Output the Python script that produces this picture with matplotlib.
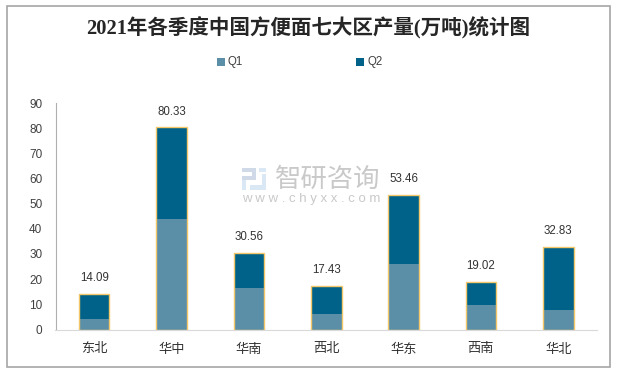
import matplotlib
matplotlib.use('Agg')
import matplotlib.pyplot as plt
from matplotlib.patches import Rectangle

plt.rcParams['font.family'] = ['Liberation Sans', 'Noto Sans CJK SC']

regions = ['东北', '华中', '华南', '西北', '华东', '西南', '华北']
q1 = [4.0, 43.9, 16.4, 6.1, 25.9, 9.7, 7.6]
q2 = [10.09, 36.43, 14.16, 11.33, 27.56, 9.32, 25.23]
totals = [14.09, 80.33, 30.56, 17.43, 53.46, 19.02, 32.83]
yticks = [0, 10, 20, 30, 40, 50, 60, 70, 80, 90]

W, H = 624, 374
fig = plt.figure(figsize=(W / 100, H / 100), dpi=100)

def px_rect(x0, y0, x1, y1, **kw):
    # rectangle given in picture pixels, y going down
    r = Rectangle((x0 / W, 1 - y1 / H), (x1 - x0) / W, (y1 - y0) / H, transform=fig.transFigure, **kw)
    fig.add_artist(r)

# outer grey frame
px_rect(6.5, 5.5, 610, 367, fc='white', ec='#a6a6a6', lw=1.2, zorder=-1)

ax = fig.add_axes([55.5 / W, 1 - 329.5 / H, 541.5 / W, 226.5 / H])
ax.patch.set_alpha(0)
x = list(range(len(regions)))
c1 = '#5b8fa8'
c2 = '#006288'
edge = '#f4c76a'
ax.bar(x, q1, width=0.395, color=c1, edgecolor='none', label='Q1', zorder=2)
ax.bar(x, q2, bottom=q1, width=0.395, color=c2, edgecolor='none', label='Q2', zorder=2)

# yellow outline around each stack
for i in x:
    ax.bar(i, totals[i], width=0.395, fill=False, edgecolor=edge, lw=1.0, zorder=3)
    ax.text(i, totals[i] + 3.8, '%.2f' % totals[i], ha='center', va='bottom', fontsize=8.3, color='#333333')

ax.set_xlim(-0.5, 6.5)
ax.set_ylim(0, 90)
ax.set_yticks(yticks)
ax.set_xticks(x)
ax.set_xticklabels(regions, fontsize=9.5, color='#333333')
ax.tick_params(axis='y', length=0, labelsize=8.5, labelcolor='#404040', pad=9.5)
ax.tick_params(axis='x', length=0, pad=10)
for s in ['top', 'right']:
    ax.spines[s].set_visible(False)
ax.spines['left'].set_color('#b0b0b0')
ax.spines['bottom'].set_color('#d9d9d9')

fig.text(308.5 / W, 1 - 28 / H, '2021年各季度中国方便面七大区产量(万吨)统计图', ha='center', va='center',
         fontsize=14.8, fontweight='bold', color='#262626',
         family=['Liberation Serif', 'Noto Sans CJK SC'])

# legend
px_rect(217, 58, 225, 66, fc=c1, ec='none')
fig.text(228 / W, 1 - 62 / H, 'Q1', fontsize=8.3, va='center', color='#404040')
px_rect(356, 58, 364, 66, fc=c2, ec='none')
fig.text(367 / W, 1 - 62 / H, 'Q2', fontsize=8.3, va='center', color='#404040')

# watermark
logo = '#cfd9e8'
logo2 = '#d9e8f4'
px_rect(242, 168, 256, 172, fc=logo, ec='none', zorder=5)
px_rect(252, 172, 256, 180, fc=logo, ec='none', zorder=5)
px_rect(242, 176, 252, 180, fc=logo, ec='none', zorder=5)
px_rect(242, 180, 246, 190, fc=logo2, ec='none', zorder=5)
px_rect(259, 168, 266, 172, fc=logo2, ec='none', zorder=5)
px_rect(262, 174, 266, 190, fc=logo2, ec='none', zorder=5)
px_rect(250, 185, 262, 190, fc=logo2, ec='none', zorder=5)
fig.text(275 / W, 1 - 180 / H, '智研咨询', fontsize=19, va='center', color='#c9c9c9', zorder=5)
fig.text(242 / W, 1 - 199 / H, 'w w w . c h y x x . c o m', fontsize=9.5, va='center', color='#c9c9c9', zorder=5)

fig.savefig('out.png', dpi=100)
